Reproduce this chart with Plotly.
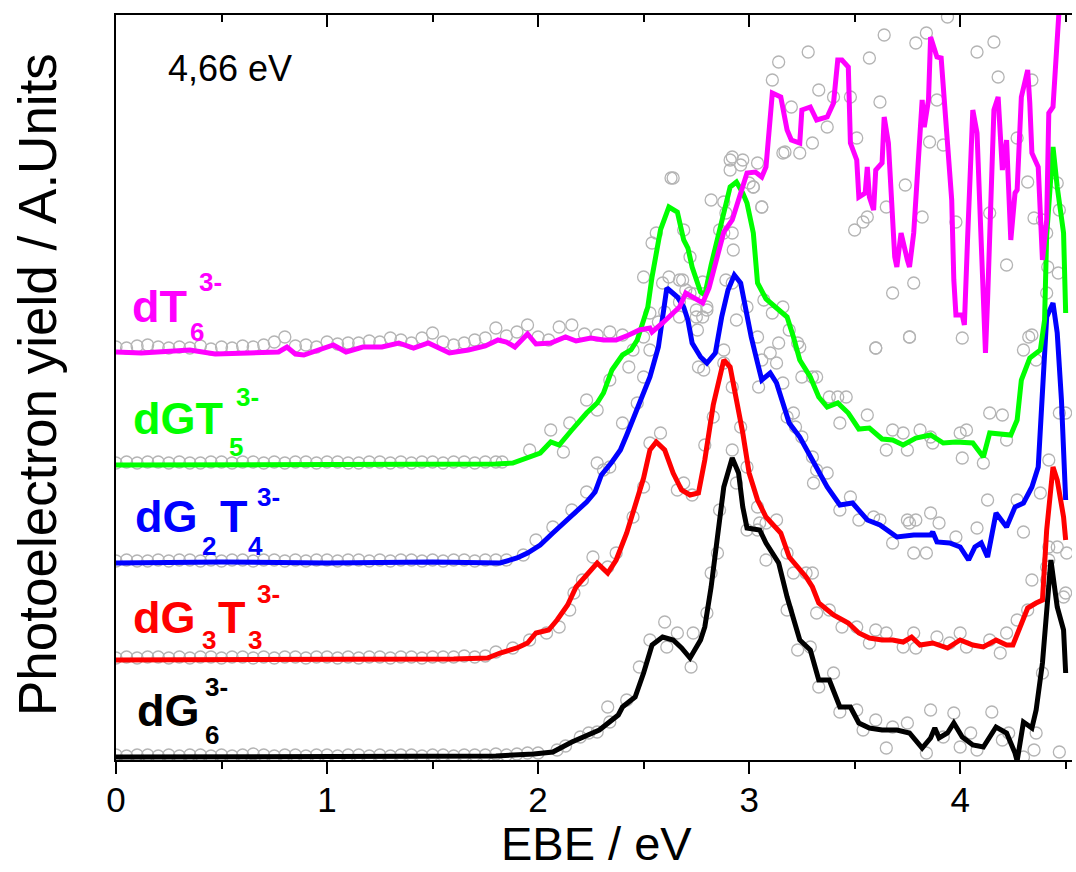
import plotly.graph_objects as go

# ---------------- data ----------------
# vertical offsets of each spectrum (arbitrary units)
offsets = {"dG6": 2, "dG3T3": 100, "dG2T4": 197, "dGT5": 295, "dT6": 408}

# smoothed spectra (EBE in eV, yield in arbitrary units above own baseline)
dG6_x = [0.0, 0.3, 0.6, 0.9, 1.2, 1.5, 1.8, 1.98, 2.07, 2.16, 2.29, 2.38, 2.40, 2.46, 2.50, 2.54, 2.59, 2.64,
         2.68, 2.72, 2.77, 2.79, 2.82, 2.85, 2.88, 2.92, 2.95, 2.97, 2.99, 3.05, 3.08, 3.14, 3.18, 3.24, 3.29,
         3.33, 3.38, 3.43, 3.48, 3.52, 3.57, 3.63, 3.70, 3.76, 3.82, 3.86, 3.88, 3.90, 3.94, 3.97, 4.01, 4.06,
         4.11, 4.17, 4.22, 4.26, 4.27, 4.30, 4.34, 4.36, 4.39, 4.43, 4.46, 4.49, 4.50]
dG6_y = [1, 1, 2, 1, 1, 1, 2, 4, 6, 16, 28, 43, 51, 61, 85, 113, 121, 118,
         110, 100, 118, 131, 171, 221, 271, 300, 285, 251, 230, 228, 215, 195, 161, 118, 108,
         78, 78, 51, 51, 35, 30, 28, 28, 25, 10, 20, 30, 20, 25, 35, 21, 13,
         11, 31, 25, 5, -3, 36, 30, 48, 95, 198, 151, 128, 85]

dG3T3_x = [0.0, 0.4, 0.8, 1.2, 1.6, 1.76, 1.82, 1.90, 1.95, 1.99, 2.05, 2.09, 2.14, 2.18, 2.24, 2.28, 2.33, 2.37,
           2.42, 2.46, 2.50, 2.53, 2.56, 2.60, 2.64, 2.68, 2.72, 2.76, 2.79, 2.83, 2.88, 2.91, 2.94, 2.97, 3.00,
           3.04, 3.08, 3.15, 3.19, 3.24, 3.27, 3.30, 3.33, 3.40, 3.47, 3.52, 3.57, 3.63, 3.68, 3.73, 3.77, 3.81,
           3.87, 3.94, 4.00, 4.06, 4.11, 4.17, 4.22, 4.25, 4.28, 4.32, 4.36, 4.39, 4.41, 4.43, 4.44, 4.46, 4.49, 4.50]
dG3T3_y = [0, 0, 1, 0, 1, 2, 7, 12, 17, 27, 30, 40, 55, 73, 87, 97, 87, 100,
           127, 153, 182, 210, 218, 210, 187, 170, 165, 167, 200, 255, 300, 293, 260, 227, 187,
           160, 143, 127, 103, 90, 83, 73, 57, 45, 37, 27, 22, 20, 20, 18, 23, 15,
           17, 12, 20, 15, 13, 20, 15, 15, 30, 52, 57, 60, 130, 180, 193, 180, 143, 120]

dG2T4_x = [0.0, 0.5, 1.0, 1.5, 1.82, 1.90, 1.95, 2.01, 2.07, 2.12, 2.16, 2.23, 2.27, 2.30, 2.35, 2.39, 2.42, 2.48,
           2.53, 2.57, 2.59, 2.61, 2.66, 2.69, 2.71, 2.73, 2.77, 2.80, 2.84, 2.87, 2.90, 2.93, 2.96, 2.99, 3.01,
           3.04, 3.06, 3.10, 3.13, 3.16, 3.19, 3.24, 3.29, 3.33, 3.37, 3.43, 3.49, 3.56, 3.62, 3.70, 3.78, 3.86,
           3.87, 3.89, 3.95, 4.00, 4.04, 4.07, 4.10, 4.13, 4.17, 4.22, 4.26, 4.30, 4.34, 4.37, 4.39, 4.41, 4.44,
           4.46, 4.48, 4.50]
dG2T4_y = [0, 1, 0, 1, 0, 5, 10, 18, 30, 40, 48, 61, 71, 88, 101, 113, 128, 160,
           186, 216, 243, 275, 266, 256, 243, 220, 206, 200, 210, 246, 273, 288, 280, 246, 226,
           200, 183, 190, 180, 160, 140, 126, 106, 90, 76, 58, 60, 43, 38, 26, 28, 28,
           31, 21, 20, 16, 3, 16, 20, 6, 50, 36, 56, 60, 76, 96, 183, 246, 260,
           230, 163, 63]

dGT5_x = [0.0, 0.5, 1.0, 1.5, 1.8, 1.88, 1.95, 2.01, 2.06, 2.10, 2.16, 2.23, 2.28, 2.31, 2.35, 2.40, 2.44, 2.47,
          2.52, 2.54, 2.58, 2.62, 2.66, 2.69, 2.71, 2.73, 2.77, 2.79, 2.82, 2.85, 2.88, 2.91, 2.94, 2.97, 2.99,
          3.02, 3.04, 3.08, 3.13, 3.18, 3.21, 3.24, 3.29, 3.33, 3.37, 3.42, 3.47, 3.52, 3.57, 3.63, 3.68, 3.73,
          3.79, 3.86, 3.92, 3.98, 4.06, 4.11, 4.14, 4.24, 4.27, 4.29, 4.33, 4.38, 4.40, 4.41, 4.44, 4.46, 4.49, 4.50]
dGT5_y = [0, 0, 1, 0, 1, 2, 7, 12, 23, 20, 35, 52, 62, 72, 95, 110, 115, 125,
          158, 188, 235, 258, 253, 225, 217, 198, 173, 170, 200, 225, 248, 278, 283, 272, 262,
          232, 182, 166, 157, 148, 128, 105, 88, 68, 58, 62, 52, 36, 37, 26, 25, 20,
          27, 30, 22, 23, 22, 8, 32, 30, 45, 85, 107, 115, 145, 230, 318, 278, 232, 152]

dT6_x = [0.00, 0.12, 0.35, 0.47, 0.63, 0.77, 0.81, 0.85, 0.89, 1.03, 1.09, 1.17, 1.26, 1.34, 1.41, 1.48, 1.58, 1.67,
         1.75, 1.81, 1.85, 1.89, 1.95, 1.99, 2.06, 2.13, 2.18, 2.25, 2.31, 2.37, 2.43, 2.48, 2.53, 2.54, 2.59,
         2.62, 2.67, 2.70, 2.73, 2.78, 2.81, 2.85, 2.88, 2.92, 2.96, 2.99, 3.03, 3.06, 3.08, 3.11, 3.15, 3.18,
         3.20, 3.24, 3.25, 3.29, 3.32, 3.37, 3.40, 3.42, 3.44, 3.47, 3.48, 3.51, 3.52, 3.55, 3.56, 3.57, 3.59,
         3.60, 3.63, 3.64, 3.66, 3.68, 3.69, 3.70, 3.72, 3.75, 3.76, 3.78, 3.79, 3.82, 3.83, 3.85, 3.86, 3.88,
         3.89, 3.91, 3.93, 3.94, 3.96, 3.97, 3.98, 4.01, 4.02, 4.035, 4.055, 4.06, 4.08, 4.09, 4.11, 4.12, 4.13,
         4.15, 4.16, 4.18, 4.19, 4.20, 4.22, 4.225, 4.24, 4.26, 4.27, 4.29, 4.32, 4.33, 4.34, 4.37, 4.38, 4.39,
         4.41, 4.42, 4.44, 4.46, 4.47, 4.48]
dT6_y = [0, -1, 2, -2, -1, 0, 5, -2, -3, 7, 0, 5, 5, 9, 4, 9, -1, 2,
         6, 12, 10, 5, 18, 8, 9, 15, 11, 14, 12, 12, 17, 22, 24, 20, 29,
         35, 45, 59, 55, 49, 64, 99, 120, 132, 159, 179, 180, 175, 185, 259, 255, 222,
         212, 209, 242, 245, 232, 235, 249, 292, 292, 285, 209, 192, 155, 159, 185, 155, 142,
         182, 189, 235, 209, 145, 95, 85, 119, 92, 85, 119, 152, 252, 225, 252, 315, 302,
         295, 294, 242, 205, 152, 72, 37, 37, 27, 112, 205, 242, 219, 165, 75, -1, 52,
         169, 242, 255, 219, 182, 212, 185, 112, 159, 162, 255, 282, 249, 199, 185, 125, 92,
         132, 239, 245, 302, 342, 380]

# raw photoelectron counts (open circles)
ebe_low = [0.00, 0.05, 0.10, 0.15, 0.20, 0.25, 0.30, 0.35, 0.40, 0.45, 0.50, 0.55, 0.60, 0.65, 0.70, 0.75,
           0.80, 0.85, 0.90, 0.95, 1.00, 1.05, 1.10, 1.15, 1.20, 1.25, 1.30, 1.35, 1.40, 1.45, 1.50, 1.55,
           1.60, 1.65, 1.70, 1.75, 1.80, 1.85, 1.90, 1.95]

dG6_raw_low = [3, 2, 3, 3, 2, 3, 2, 3, 3, 2, 3, 2, 3, 4, 3, 2, 3, 3, 2, 3, 3, 2, 3, 3, 2, 3, 2, 3, 3, 2,
               3, 3, 2, 3, 3, 3, 4, 3, 4, 5]
dG6_raw_x = [2.00, 2.09, 2.13, 2.20, 2.24, 2.28, 2.33, 2.34, 2.42, 2.48, 2.53, 2.60, 2.61, 2.66, 2.725, 2.735,
             2.80, 2.82, 2.85, 2.86, 2.92, 2.94, 2.99, 3.04, 3.08, 3.18, 3.23, 3.29, 3.33, 3.40, 3.43, 3.51,
             3.54, 3.60, 3.65, 3.68, 3.75, 3.84, 3.86, 3.92, 3.97, 4.00, 4.05, 4.08, 4.15, 4.20, 4.23, 4.30,
             4.35, 4.36, 4.39, 4.41, 4.42, 4.47, 4.49]
dG6_raw_y = [5, 8, 12, 21, 25, 26, 51, 36, 58, 91, 118, 136, 111, 125, 91, 125,
             145, 185, 205, 248, 308, 275, 228, 228, 198, 148, 108, 111, 71, 85, 46, 48,
             28, 38, 10, 31, 35, 5, 48, 21, 45, 11, 25, 8, 46, 18, 25, 1,
             8, 25, 85, 178, 198, 6, 161]

dG3T3_raw_low = [2, 3, 2, 3, 3, 2, 3, 2, 3, 3, 2, 3, 3, 2, 3, 2, 3, 3, 2, 3, 3, 2, 3, 2, 3, 3, 2, 3, 3, 2,
                 3, 3, 3, 4, 3, 4]
dG3T3_raw_x = [1.80, 1.88, 1.96, 2.04, 2.10, 2.15, 2.17, 2.21, 2.26, 2.33, 2.37, 2.45, 2.50, 2.53, 2.58, 2.66,
               2.69, 2.73, 2.79, 2.83, 2.88, 2.92, 2.96, 2.99, 3.04, 3.05, 3.08, 3.13, 3.18, 3.21, 3.27, 3.30,
               3.32, 3.38, 3.44, 3.51, 3.57, 3.60, 3.65, 3.73, 3.78, 3.79, 3.89, 3.95, 4.00, 4.03, 4.14, 4.19,
               4.22, 4.27, 4.32, 4.34, 4.41, 4.42, 4.46, 4.50, 4.505]
dG3T3_raw_y = [8, 12, 20, 27, 33, 50, 67, 80, 103, 93, 107, 143, 173, 217, 227, 170,
               177, 165, 215, 243, 297, 273, 233, 193, 153, 137, 137, 140, 107, 87, 87, 87,
               47, 50, 33, 33, 17, 30, 27, 13, 27, 12, 23, 17, 27, 13, 20, 7,
               27, 40, 50, 80, 93, 113, 113, 67, 107]

dG2T4_raw_low = [2, 3, 2, 2, 3, 2, 3, 3, 2, 3, 2, 3, 3, 2, 3, 3, 2, 3, 2, 3, 3, 2, 3, 3, 2, 3, 2, 3, 3, 2,
                 3, 2, 3, 3, 2, 3, 3]
dG2T4_raw_x = [1.85, 1.93, 1.99, 2.07, 2.16, 2.23, 2.28, 2.31, 2.34, 2.40, 2.47, 2.50, 2.53, 2.59, 2.67, 2.72,
               2.75, 2.755, 2.76, 2.78, 2.785, 2.80, 2.88, 2.89, 2.92, 2.94, 2.99, 3.04, 3.045, 3.06, 3.10, 3.13,
               3.14, 3.16, 3.18, 3.21, 3.22, 3.25, 3.30, 3.305, 3.32, 3.37, 3.43, 3.48, 3.52, 3.59, 3.62, 3.68,
               3.75, 3.76, 3.78, 3.79, 3.84, 3.86, 3.90, 3.98, 4.08, 4.13, 4.27, 4.30, 4.38, 4.42, 4.47, 4.50]
dG2T4_raw_y = [3, 8, 23, 36, 53, 71, 100, 93, 96, 140, 160, 186, 213, 280, 283, 270,
               253, 233, 196, 246, 193, 256, 213, 283, 280, 243, 256, 226, 176, 203, 210, 200,
               220, 180, 146, 150, 136, 126, 106, 80, 93, 90, 53, 66, 43, 46, 43, 20,
               43, 40, 10, 43, 10, 50, 40, 26, 35, 63, 63, 31, 70, 103, 150, 150]

dGT5_raw_low = [2, 3, 2, 3, 3, 2, 3, 2, 2, 3, 3, 2, 3, 3, 2, 3, 2, 3, 3, 2, 3, 3, 2, 2, 3, 3, 2, 3, 2, 3,
                3, 2, 3, 3, 2, 3, 3]
dGT5_raw_x = [1.83, 1.96, 2.06, 2.12, 2.15, 2.23, 2.28, 2.34, 2.43, 2.50, 2.54, 2.56, 2.62, 2.63, 2.67, 2.685,
              2.69, 2.72, 2.75, 2.80, 2.88, 2.89, 2.91, 2.92, 2.925, 3.00, 3.02, 3.06, 3.07, 3.11, 3.16, 3.19,
              3.23, 3.24, 3.25, 3.30, 3.32, 3.38, 3.42, 3.43, 3.46, 3.56, 3.60, 3.65, 3.68, 3.73, 3.75, 3.76,
              3.81, 3.86, 3.87, 4.00, 4.01, 4.03, 4.11, 4.14, 4.20, 4.22, 4.30, 4.34, 4.36, 4.39, 4.41, 4.46,
              4.465, 4.47]
dGT5_raw_y = [3, 15, 35, 13, 42, 65, 55, 85, 98, 188, 222, 232, 188, 287, 148, 185,
              235, 208, 148, 155, 263, 252, 295, 232, 215, 282, 278, 258, 165, 152, 158, 135,
              122, 118, 88, 88, 88, 68, 68, 42, 68, 50, 117, 15, 35, 32, 15, 128,
              35, 28, 22, 32, 7, 35, 2, 52, 50, 25, 115, 130, 105, 245, 172, 282,
              192, 255]

dT6_raw_x = ebe_low + [2.00, 2.05, 2.10, 2.16, 2.22, 2.28, 2.34, 2.40, 2.45, 2.50, 2.53, 2.57, 2.60, 2.64,
                       2.67, 2.70, 2.74, 2.78, 2.82, 2.86, 2.88, 2.91, 2.92, 2.96, 2.97, 3.02, 3.04, 3.06,
                       3.11, 3.14, 3.16, 3.17, 3.20, 3.24, 3.28, 3.30, 3.33, 3.37, 3.40, 3.48, 3.50, 3.51,
                       3.54, 3.56, 3.57, 3.60, 3.62, 3.64, 3.65, 3.68, 3.74, 3.76, 3.78, 3.79, 3.82, 3.84,
                       3.855, 3.89, 3.92, 3.94, 3.98, 4.01, 4.08, 4.14, 4.16, 4.18, 4.22, 4.27, 4.32, 4.325,
                       4.34, 4.35, 4.41, 4.415]
dT6_raw_y = [5, 4, 6, 7, 5, 4, 5, 4, 6, 3, 5, 4, 6, 5, 7, 10, 15, 6, 7, 5, 10, 8, 9, 9, 11, 10, 14, 12,
             9, 14, 19, 10, 7, 9, 12, 14, 24, 16, 20, 27] + \
            [15, 12, 25, 27, 18, 17, 20, 17, 2, 15, 39, 30, 40, 174,
             50, 62, 58, 70, 152, 122, 119, 192, 195, 187, 192, 165, 189, 145,
             272, 290, 199, 200, 245, 199, 300, 209, 262, 225, 255, 255, 122, 214,
             130, 135, 294, 4, 250, 317, 145, 59, 167, 15, 69, 309, 135, 319,
             210, 252, 207, 335, 130, 14, 300, 139, 310, 275, 87, 214, 170, 15,
             272, 134, 119, 85]

series = [
    ("dG6", dG6_x, dG6_y, ebe_low, dG6_raw_low, dG6_raw_x, dG6_raw_y, "#000000"),
    ("dG3T3", dG3T3_x, dG3T3_y, ebe_low[:36], dG3T3_raw_low, dG3T3_raw_x, dG3T3_raw_y, "#ff0000"),
    ("dG2T4", dG2T4_x, dG2T4_y, ebe_low[:37], dG2T4_raw_low, dG2T4_raw_x, dG2T4_raw_y, "#0000ff"),
    ("dGT5", dGT5_x, dGT5_y, ebe_low[:37], dGT5_raw_low, dGT5_raw_x, dGT5_raw_y, "#00ff00"),
    ("dT6", dT6_x, dT6_y, [], [], dT6_raw_x, dT6_raw_y, "#ff00ff"),
]

# ---------------- figure ----------------
fig = go.Figure()

# raw data circles first
for name, lx, ly, rlx, rly, rx, ry, col in series:
    off = offsets[name]
    xs = list(rlx) + list(rx)
    ys = [v + off for v in list(rly) + list(ry)]
    fig.add_trace(go.Scatter(
        x=xs, y=ys, mode="markers",
        marker=dict(symbol="circle-open", size=12, color="#b4b4b4", line=dict(width=1.3, color="#b4b4b4")),
        showlegend=False, hoverinfo="skip"))

# smoothed lines on top
for name, lx, ly, rlx, rly, rx, ry, col in series:
    off = offsets[name]
    fig.add_trace(go.Scatter(
        x=lx, y=[v + off for v in ly], mode="lines",
        line=dict(color=col, width=5), showlegend=False, name=name))

# dummy trace to activate the top axis
fig.add_trace(go.Scatter(x=[None], y=[None], xaxis="x2", yaxis="y", showlegend=False, hoverinfo="skip"))

FONT = "Liberation Sans, Arial, sans-serif"
L, R, T, B = 116, 4, 15, 112
W, H = 1076, 872
PW, PH = W - L - R, H - T - B

fig.update_layout(
    width=W, height=H,
    margin=dict(l=L, r=R, t=T, b=B, pad=0),
    paper_bgcolor="white", plot_bgcolor="white",
    showlegend=False,
    font=dict(family=FONT, color="black"),
    xaxis=dict(range=[0, 4.53], showgrid=False, zeroline=False,
               showline=True, linecolor="black", linewidth=2,
               ticks="outside", ticklen=12, tickwidth=2, tickcolor="black",
               tickmode="linear", tick0=0, dtick=1, ticklabelstandoff=-4,
               tickfont=dict(size=35, family=FONT, color="black"),
               minor=dict(ticks="outside", ticklen=7, tickwidth=2, tickcolor="black", dtick=0.5, tick0=0,
                          showgrid=False)),
    xaxis2=dict(range=[0, 4.53], overlaying="x", side="top", showgrid=False, zeroline=False,
                showline=True, linecolor="black", linewidth=2,
                ticks="inside", ticklen=12, tickwidth=2, tickcolor="black",
                tickmode="linear", tick0=0, dtick=1, showticklabels=False,
                minor=dict(ticks="inside", ticklen=7, tickwidth=2, tickcolor="black", dtick=0.5, tick0=0,
                           showgrid=False)),
    yaxis=dict(range=[0, 745], showgrid=False, zeroline=False, showticklabels=False,
               showline=True, linecolor="black", linewidth=2, ticks=""),
)


def px_x(px):
    return (px - L) / PW


def px_y(py):
    return (H - B - py) / PH


def text(txt, left, cy, size, color, bold=True, anchor="left"):
    t = f"<b>{txt}</b>" if bold else txt
    fig.add_annotation(text=t, xref="paper", yref="paper", x=px_x(left), y=px_y(cy),
                       xanchor=anchor, yanchor="middle", showarrow=False,
                       font=dict(family=FONT, size=size, color=color))


# axis titles
fig.add_annotation(text="EBE / eV", xref="paper", yref="paper", x=px_x(596), y=px_y(843),
                   xanchor="center", yanchor="middle", showarrow=False, borderpad=0,
                   font=dict(family=FONT, size=47, color="black"))
fig.add_annotation(text="Photoelectron yield / A.Units", xref="paper", yref="paper",
                   x=px_x(38), y=px_y(385), textangle=-90,
                   xanchor="center", yanchor="middle", showarrow=False,
                   font=dict(family=FONT, size=53, color="black"))

# photon energy
text("4,66 eV", 166, 68, 36, "black", bold=False)

BIG, SMALL = 45, 26
# dT6 3-
text("dT", 130, 307, BIG, "#ff00ff")
text("6", 188, 332, SMALL, "#ff00ff")
text("3-", 197, 282, SMALL, "#ff00ff")
# dGT5 3-
text("dGT", 131, 418, BIG, "#00ff00")
text("5", 227, 447, SMALL, "#00ff00")
text("3-", 234, 397, SMALL, "#00ff00")
# dG2T4 3-
text("dG", 133, 516, BIG, "#0000ff")
text("2", 200, 546, SMALL, "#0000ff")
text("T", 218, 516, BIG, "#0000ff")
text("4", 246, 546, SMALL, "#0000ff")
text("3-", 255, 497, SMALL, "#0000ff")
# dG3T3 3-
text("dG", 131, 617, BIG, "#ff0000")
text("3", 200, 640, SMALL, "#ff0000")
text("T", 216, 617, BIG, "#ff0000")
text("3", 246, 640, SMALL, "#ff0000")
text("3-", 255, 594, SMALL, "#ff0000")
# dG6 3-
text("dG", 135, 710, BIG, "black")
text("3-", 203, 687, SMALL, "black")
text("6", 203, 735, SMALL, "black")

# remove the default page margin so the figure sits at the window origin
fig.write_html("out.html", config={"displayModeBar": False},
               post_script="document.body.style.margin='0px';document.body.style.overflow='hidden';")
